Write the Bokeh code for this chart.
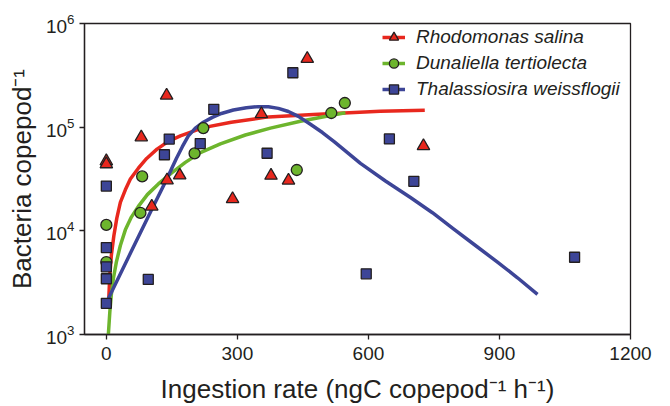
from bokeh.plotting import figure
from bokeh.models import FixedTicker, Legend, LegendItem
from bokeh.embed import file_html
from bokeh.resources import INLINE

# ---- data ----
rs_x = [0, 0, 80, 138, 104, 139, 168, 289, 355, 377, 417, 460, 726]
rs_y = [47000, 44000, 80000, 202000, 17200, 30800, 34300, 20300, 134000, 34100, 30600, 457000, 65800]

dt_x = [0, 0, 78, 82, 202, 222, 436, 515, 546]
dt_y = [11400, 5000, 14900, 33500, 55800, 98000, 38600, 137000, 171000]

tw_x = [0, 0, 0, 0, 0, 96, 133, 144, 215, 246, 368, 427, 595, 648, 704, 1072]
tw_y = [27000, 6900, 4500, 3450, 2000, 3400, 54200, 76800, 69500, 148600, 56000, 335000, 3850, 77100, 30000, 5560]

# fitted curves
rs_fit_x = [5.7, 8, 11.5, 17.2, 24, 32.1, 43.5, 55, 73.3, 92.3, 116, 142, 169.5, 222, 286, 371, 474, 627, 729]
rs_fit_y = [2283, 3763, 5812, 8969, 13265, 18775, 24898, 31623, 40160, 49906, 61340, 72990, 82270,
            98920, 111500, 125660, 132650, 142490, 145640]

dt_fit_x = [4.6, 8, 11.5, 16, 22.9, 32.1, 43.5, 57.3, 73.3, 93.9, 119.1, 148.9, 180.9, 215.3, 261.1,
            318.3, 375.6, 444.3, 513, 547.3]
dt_fit_y = [1000, 1649, 2437, 3450, 4990, 7219, 10220, 13560, 17210, 22350, 28370, 36020, 45750, 56850,
            69110, 84040, 97860, 113930, 129780, 137590]

tw_fit_x = [0, 55, 100.8, 137.4, 160.3, 174, 187.8, 203.8, 222.1, 242.7, 263.4, 290.8, 320.6, 348.1, 371,
            393.9, 416.8, 439.7, 467.2, 494.7, 522.2, 552, 581.8, 639, 696.3, 746.6, 794.7, 845.1, 895.5,
            941.3, 987.1]
tw_fit_y = [2026, 6067, 15110, 30950, 49910, 64770, 82270, 97860, 111500, 124300, 135600, 146300, 153800,
            157800, 157100, 151800, 141600, 127000, 106700, 88780, 72210, 56850, 44760, 30280, 20930,
            14950, 10440, 7219, 4990, 3526, 2437]

x_ticks = [0, 300, 600, 900, 1200]
y_ticks = [1e3, 1e4, 1e5, 1e6]

labels = ["Rhodomonas salina", "Dunaliella tertiolecta", "Thalassiosira weissflogii"]

RED = "#e8281e"
GREEN = "#6db52d"
BLUE = "#3d4597"
INK = "#231f20"
FONT = "Liberation Sans"

p = figure(width=658, height=406, x_range=(-50, 1200), y_range=(1e3, 1e6),
           y_axis_type="log", output_backend="svg", toolbar_location=None,
           min_border_left=84, min_border_right=28, min_border_top=23, min_border_bottom=65)

p.grid.visible = False
p.outline_line_color = INK
p.outline_line_width = 1.3
p.background_fill_color = "white"

p.xaxis.ticker = FixedTicker(ticks=x_ticks)
p.yaxis.ticker = FixedTicker(ticks=y_ticks)
for ax in (p.xaxis[0], p.yaxis[0]):
    ax.axis_line_color = INK
    ax.axis_line_width = 1.3
    ax.major_tick_line_color = INK
    ax.major_tick_line_width = 1.3
    ax.major_tick_in = 0
    ax.major_tick_out = 5
    ax.minor_tick_line_color = None
    ax.major_label_text_font = FONT
    ax.major_label_text_font_size = "19px"
    ax.major_label_text_color = INK
    ax.axis_label_text_font = FONT
    ax.axis_label_text_font_size = "26px"
    ax.axis_label_text_font_style = "normal"
    ax.axis_label_text_color = INK

p.xaxis.major_label_standoff = 7
p.xaxis.axis_label_standoff = 11
p.yaxis.major_label_standoff = 5
p.yaxis.axis_label_standoff = 6

p.xaxis.axis_label = "Ingestion rate (ngC copepod\u207b\u00b9 h\u207b\u00b9)"
p.yaxis.axis_label = "Bacteria copepod\u207b\u00b9"

r_line = p.line(rs_fit_x, rs_fit_y, line_color=RED, line_width=3.5, line_join="round")
g_line = p.line(dt_fit_x, dt_fit_y, line_color=GREEN, line_width=3.5, line_join="round")
b_line = p.line(tw_fit_x, tw_fit_y, line_color=BLUE, line_width=3.5, line_join="round")

r_pts = p.scatter(rs_x, rs_y, marker="triangle", size=12.5, fill_color=RED, line_color=INK, line_width=1.3)
g_pts = p.scatter(dt_x, dt_y, marker="circle", size=11, fill_color=GREEN, line_color=INK, line_width=1.3)
b_pts = p.scatter(tw_x, tw_y, marker="square", size=10, fill_color=BLUE, line_color=INK, line_width=1.3)

legend = Legend(items=[
    LegendItem(label=labels[0], renderers=[r_line, r_pts]),
    LegendItem(label=labels[1], renderers=[g_line, g_pts]),
    LegendItem(label=labels[2], renderers=[b_line, b_pts]),
], location=(298, 233))
legend.background_fill_alpha = 0
legend.border_line_color = None
legend.padding = 0
legend.margin = 0
legend.spacing = 2
legend.glyph_width = 23
legend.glyph_height = 24
legend.label_height = 24
legend.label_standoff = 11
legend.label_text_font = FONT
legend.label_text_font_size = "19px"
legend.label_text_font_style = "italic"
legend.label_text_color = INK
p.add_layout(legend)

open("out.html", "w").write(file_html(p, INLINE))
